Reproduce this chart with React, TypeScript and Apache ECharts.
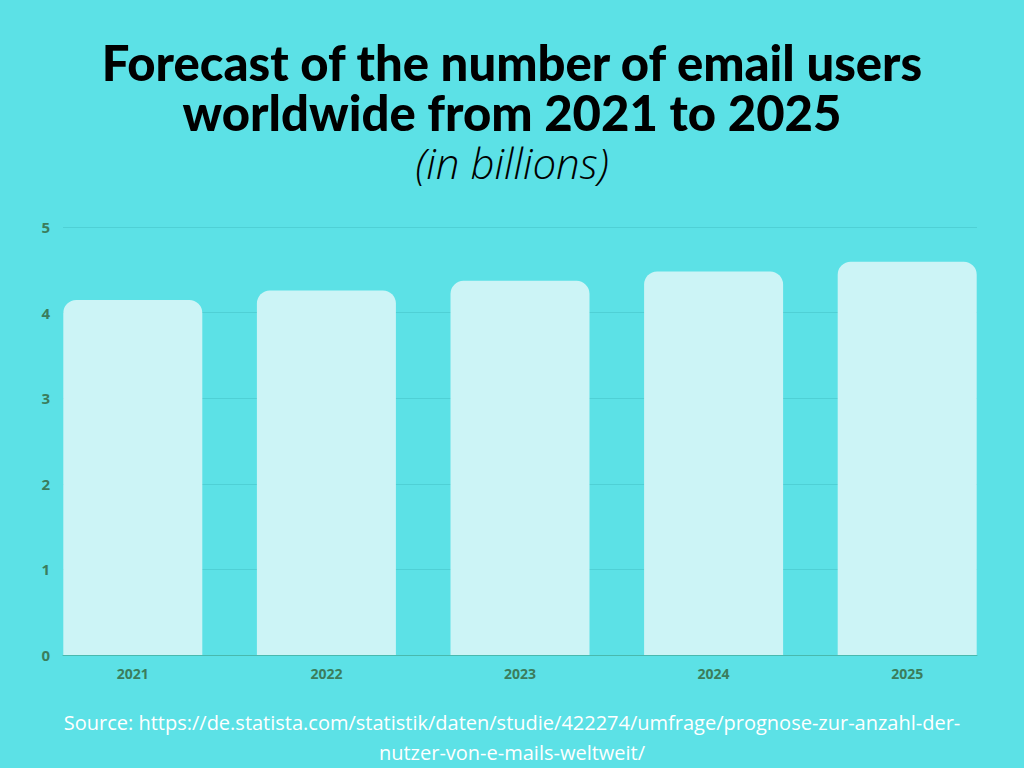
import React, { useEffect, useRef } from "react";
import * as echarts from "echarts";

const years = ["2021", "2022", "2023", "2024", "2025"];
const users = [4.147, 4.258, 4.371, 4.481, 4.594];
const yTicks = [0, 1, 2, 3, 4, 5];

export default function App() {
  const ref = useRef<HTMLDivElement>(null);
  useEffect(() => {
    const chart = echarts.init(ref.current!, undefined, { renderer: "svg" });
    const labelColor = "#3b7d5c";
    const titleStyle = {
      fontFamily: "Lato",
      fontWeight: 900,
      fontSize: 49,
      lineHeight: 50,
      color: "#000",
    };
    chart.setOption({
      animation: false,
      backgroundColor: "#5ce1e6",
      title: [
        {
          text: "Forecast of the number of email users",
          left: "center",
          top: 37,
          padding: 0,
          textStyle: titleStyle,
        },
        {
          text: "worldwide from 2021 to 2025",
          left: "center",
          top: 87,
          padding: 0,
          textStyle: titleStyle,
        },
        {
          text: "(in billions)",
          left: "center",
          top: 140,
          padding: 0,
          textStyle: {
            fontFamily: "Open Sans",
            fontStyle: "italic",
            fontWeight: 300,
            fontSize: 42,
            lineHeight: 44,
            color: "#000",
          },
        },
        {
          text:
            "Source: https://de.statista.com/statistik/daten/studie/422274/umfrage/prognose-zur-anzahl-der-\nnutzer-von-e-mails-weltweit/",
          left: "center",
          top: 702,
          textStyle: {
            fontFamily: "Open Sans",
            fontWeight: 400,
            fontSize: 20,
            lineHeight: 30,
            color: "#ffffff",
            align: "center",
          },
        },
      ],
      grid: [
        { left: 63, right: 47, top: 227, bottom: 113 },
        { left: 36, right: 20, top: 227, bottom: 113 },
      ],
      xAxis: [
        {
          gridIndex: 0,
          type: "value",
          min: 0,
          max: 1,
          axisLabel: { show: false },
          axisTick: { show: false },
          splitLine: { show: false },
          axisLine: { show: true, lineStyle: { color: "#49b9ae", width: 1 } },
        },
        {
          gridIndex: 1,
          type: "category",
          data: years,
          axisLine: { show: false },
          axisTick: { show: false },
          axisLabel: {
            color: labelColor,
            fontFamily: "Open Sans",
            fontWeight: "bold",
            fontSize: 14,
            margin: 11,
          },
        },
      ],
      yAxis: [
        {
          gridIndex: 0,
          type: "value",
          min: 0,
          max: 5,
          interval: 1,
          axisLine: { show: false },
          axisTick: { show: false },
          axisLabel: {
            color: labelColor,
            fontFamily: "Open Sans",
            fontWeight: "bold",
            fontSize: 15,
            margin: 13,
            formatter: (v: number) => (yTicks.includes(v) ? String(v) : ""),
          },
          splitLine: { lineStyle: { color: "#4fd0d5", width: 1 } },
        },
        {
          gridIndex: 1,
          type: "value",
          min: 0,
          max: 5,
          show: false,
          splitLine: { show: false },
        },
      ],
      series: [
        {
          type: "bar",
          xAxisIndex: 1,
          yAxisIndex: 1,
          data: users,
          barWidth: 139,
          itemStyle: {
            color: "#ccf4f6",
            borderRadius: [13, 13, 0, 0],
          },
          z: 3,
        },
      ],
    });
    return () => chart.dispose();
  }, []);
  return <div ref={ref} style={{ width: 1024, height: 768, position: "absolute", left: 0, top: 0 }} />;
}
